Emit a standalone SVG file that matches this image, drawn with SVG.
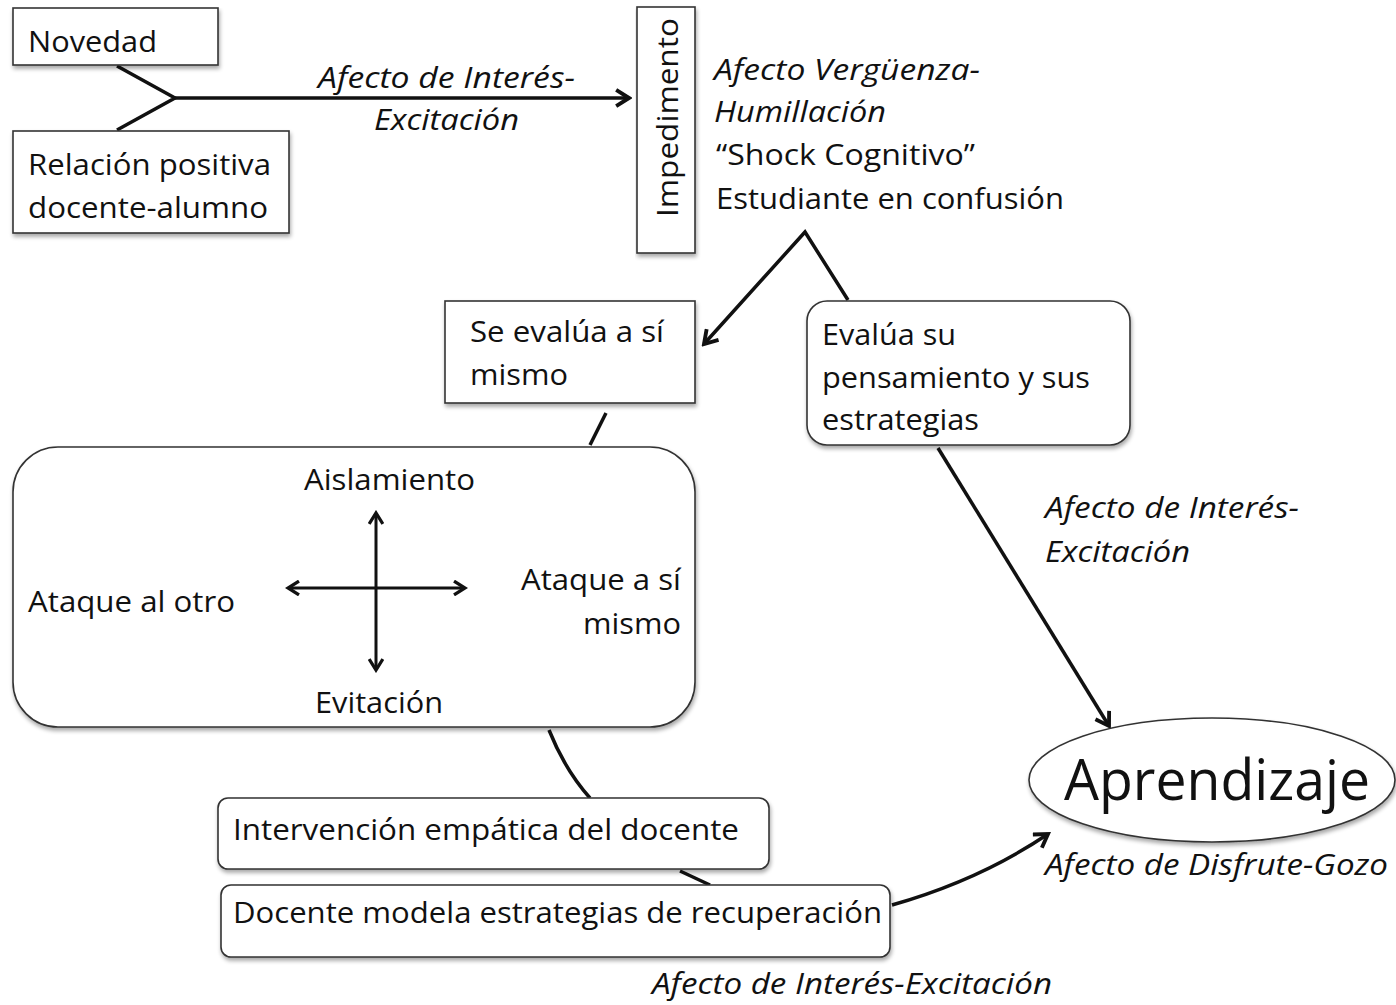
<svg xmlns="http://www.w3.org/2000/svg" width="1396" height="1005" viewBox="0 0 1396 1005">
<defs>
<style>
.t{font-family:"Open Sans","Noto Sans",sans-serif;font-size:29px;fill:#111}
.i{font-style:italic}
.box{fill:#fff;stroke:#333;stroke-width:1.6}
.ln{fill:none;stroke:#111;stroke-width:3.5}
</style>
<filter id="sh" x="-5%" y="-5%" width="115%" height="130%">
<feGaussianBlur in="SourceAlpha" stdDeviation="2"/>
<feOffset dx="1" dy="3" result="b"/>
<feComponentTransfer><feFuncA type="linear" slope="0.35"/></feComponentTransfer>
<feMerge><feMergeNode/><feMergeNode in="SourceGraphic"/></feMerge>
</filter>
<marker id="ah" viewBox="0 0 12 12" refX="10" refY="6" markerWidth="5.5" markerHeight="5.5" markerUnits="strokeWidth" orient="auto-start-reverse">
<path d="M2,1 L10,6 L2,11" fill="none" stroke="#111" stroke-width="2.4"/>
</marker>
</defs>
<rect width="1396" height="1005" fill="#fff"/>

<g id="connectors">
<path class="ln" d="M117,66 L175,98 L117,130"/>
<path class="ln" d="M175,98 L629,98" marker-end="url(#ah)"/>
<path class="ln" d="M848,300 L805,232 L704,344" marker-end="url(#ah)"/>
<path class="ln" d="M606,413 L590,445"/>
<path class="ln" d="M938,448 L1109,726" marker-end="url(#ah)"/>
<path class="ln" d="M549,730 Q565,770 590,798"/>
<path class="ln" d="M680,871 L710,885"/>
<path class="ln" d="M892,905 Q980,880 1048,834" marker-end="url(#ah)"/>
</g>

<g id="novedad">
<rect class="box" x="13" y="8" width="205" height="57" filter="url(#sh)"/>
<text class="t" x="28" y="52" textLength="129" lengthAdjust="spacingAndGlyphs">Novedad</text>
</g>
<g id="relacion">
<rect class="box" x="13" y="131" width="276" height="102" filter="url(#sh)"/>
<text class="t" x="28" y="175" textLength="243" lengthAdjust="spacingAndGlyphs">Relación positiva</text>
<text class="t" x="28" y="218" textLength="240" lengthAdjust="spacingAndGlyphs">docente-alumno</text>
</g>
<g id="label-interes-1">
<text class="t i" x="318" y="88" textLength="257" lengthAdjust="spacingAndGlyphs">Afecto de Interés-</text>
<text class="t i" x="374" y="130" textLength="145" lengthAdjust="spacingAndGlyphs">Excitación</text>
</g>
<g id="impedimento">
<rect class="box" x="637" y="7" width="58" height="246" filter="url(#sh)"/>
<text class="t" transform="translate(678,217) rotate(-90)" x="0" y="0" textLength="199" lengthAdjust="spacingAndGlyphs">Impedimento</text>
</g>
<g id="verguenza">
<text class="t i" x="714" y="80" textLength="266" lengthAdjust="spacingAndGlyphs">Afecto Vergüenza-</text>
<text class="t i" x="714" y="122" textLength="172" lengthAdjust="spacingAndGlyphs">Humillación</text>
<text class="t" x="716" y="165" textLength="259" lengthAdjust="spacingAndGlyphs">“Shock Cognitivo”</text>
<text class="t" x="716" y="209" textLength="348" lengthAdjust="spacingAndGlyphs">Estudiante en confusión</text>
</g>
<g id="se-evalua">
<rect class="box" x="445" y="301" width="250" height="102" filter="url(#sh)"/>
<text class="t" x="470" y="342" textLength="194" lengthAdjust="spacingAndGlyphs">Se evalúa a sí</text>
<text class="t" x="470" y="385" textLength="98" lengthAdjust="spacingAndGlyphs">mismo</text>
</g>
<g id="evalua-pensamiento">
<rect class="box" x="807" y="301" width="323" height="144" rx="20" filter="url(#sh)"/>
<text class="t" x="822" y="345" textLength="134" lengthAdjust="spacingAndGlyphs">Evalúa su</text>
<text class="t" x="822" y="388" textLength="268" lengthAdjust="spacingAndGlyphs">pensamiento y sus</text>
<text class="t" x="822" y="430" textLength="157" lengthAdjust="spacingAndGlyphs">estrategias</text>
</g>
<g id="reacciones">
<rect class="box" x="13" y="447" width="682" height="280" rx="45" filter="url(#sh)"/>
<text class="t" x="304" y="490" textLength="171" lengthAdjust="spacingAndGlyphs">Aislamiento</text>
<text class="t" x="28" y="612" textLength="207" lengthAdjust="spacingAndGlyphs">Ataque al otro</text>
<text class="t" x="521" y="590" textLength="160" lengthAdjust="spacingAndGlyphs">Ataque a sí</text>
<text class="t" x="583" y="634" textLength="98" lengthAdjust="spacingAndGlyphs">mismo</text>
<text class="t" x="315" y="713" textLength="128" lengthAdjust="spacingAndGlyphs">Evitación</text>
<path class="ln" d="M376,670 L376,513" marker-start="url(#ah)" marker-end="url(#ah)" style="stroke-width:3"/>
<path class="ln" d="M288,588 L465,588" marker-start="url(#ah)" marker-end="url(#ah)" style="stroke-width:3"/>
</g>
<g id="intervencion">
<rect class="box" x="218" y="798" width="551" height="71" rx="10" filter="url(#sh)"/>
<text class="t" x="233" y="840" textLength="506" lengthAdjust="spacingAndGlyphs">Intervención empática del docente</text>
</g>
<g id="docente-modela">
<rect class="box" x="221" y="885" width="669" height="72" rx="10" filter="url(#sh)"/>
<text class="t" x="233" y="923" textLength="649" lengthAdjust="spacingAndGlyphs">Docente modela estrategias de recuperación</text>
</g>
<g id="label-interes-bottom">
<text class="t i" x="652" y="994" textLength="400" lengthAdjust="spacingAndGlyphs">Afecto de Interés-Excitación</text>
</g>
<g id="label-interes-right">
<text class="t i" x="1045" y="518" textLength="254" lengthAdjust="spacingAndGlyphs">Afecto de Interés-</text>
<text class="t i" x="1045" y="562" textLength="145" lengthAdjust="spacingAndGlyphs">Excitación</text>
</g>
<g id="aprendizaje">
<ellipse cx="1212" cy="780" rx="183" ry="62" class="box" filter="url(#sh)"/>
<text class="t" x="1064" y="800" style="font-size:56px" textLength="306" lengthAdjust="spacingAndGlyphs">Aprendizaje</text>
<text class="t i" x="1045" y="875" textLength="343" lengthAdjust="spacingAndGlyphs">Afecto de Disfrute-Gozo</text>
</g>
</svg>
